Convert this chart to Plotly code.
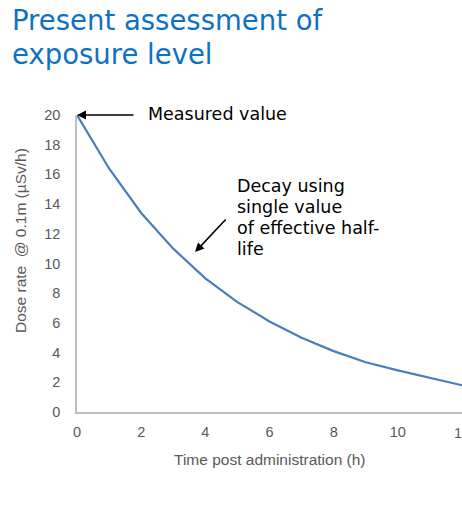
import plotly.graph_objects as go

hours = [0, 1, 2, 3, 4, 5, 6, 7, 8, 9, 10, 11, 12]
dose_rate = [20, 16.4, 13.4, 11.0, 9.0, 7.4, 6.1, 5.0, 4.1, 3.35, 2.8, 2.3, 1.8]
x_ticks = [0, 2, 4, 6, 8, 10, 12]
y_ticks = [0, 2, 4, 6, 8, 10, 12, 14, 16, 18, 20]

W, H = 462, 530
# screen coordinates of the plot area
SX0, SX1, SY0, SY1 = 77, 462, 115, 412
L, T = SX0, SY0
R = W - SX1
B = H - SY1
PW, PH = W - L - R, H - T - B


def px(x, y):
    """screen pixel -> paper coordinates"""
    return (x - L) / PW, (H - B - y) / PH


fig = go.Figure()
fig.add_trace(go.Scatter(x=hours, y=dose_rate, mode="lines",
                         line=dict(color="#4A7EBB", width=2.2),
                         cliponaxis=False, showlegend=False, hoverinfo="skip"))

grey = "#595959"
tick_font = dict(family="Liberation Sans, Arial", size=14.5, color=grey)
fig.update_layout(
    width=W, height=H,
    margin=dict(l=L, r=R, t=T, b=B, autoexpand=False),
    paper_bgcolor="white", plot_bgcolor="white",
    xaxis=dict(range=[0, 12], tickvals=x_ticks, showgrid=False, zeroline=False,
               showline=True, linecolor="#BFBFBF", linewidth=1.5, ticks="",
               tickfont=tick_font, ticklabelstandoff=6),
    yaxis=dict(range=[0, 20], tickvals=y_ticks, showgrid=False, zeroline=False,
               showline=True, linecolor="#BFBFBF", linewidth=1.5, ticks="",
               tickfont=tick_font, ticklabelstandoff=12),
)

# last x tick label sits on the page edge (partly cut, as in the reference)
_, yp = px(0, 433)
fig.add_annotation(text=str(x_ticks[-1]), xref="x", yref="paper", x=x_ticks[-1], y=yp,
                   xanchor="center", yanchor="middle", showarrow=False, font=tick_font)

axis_title_font = dict(family="Liberation Sans, Arial", size=15.5, color=grey)
xp, yp = px(270, 459)
fig.add_annotation(text="Time post administration (h)", xref="paper", yref="paper",
                   x=xp, y=yp, xanchor="center", yanchor="middle", showarrow=False,
                   font=axis_title_font)
xp, yp = px(20, 241)
fig.add_annotation(text="Dose rate  @ 0.1m (µSv/h)", xref="paper", yref="paper",
                   x=xp, y=yp, xanchor="center", yanchor="middle", showarrow=False,
                   textangle=-90, font=axis_title_font)

title_font = dict(family="DejaVu Sans, Verdana", size=27.5, color="#0E72C4")
for txt, yy in [("Present assessment of", 20), ("exposure level", 54)]:
    xp, yp = px(10, yy)
    fig.add_annotation(text=txt, xref="paper", yref="paper", x=xp, y=yp,
                       xanchor="left", yanchor="middle", showarrow=False, font=title_font)

ann_font = dict(family="DejaVu Sans, Verdana", size=17.5, color="black")

# Measured value arrow
fig.add_annotation(x=0, y=20, xref="x", yref="y", ax=58, ay=0, text="",
                   showarrow=True, arrowhead=2, arrowsize=1.2, arrowwidth=1.5,
                   arrowcolor="black")
xp, yp = px(146, 114)
fig.add_annotation(text="Measured value", xref="paper", yref="paper", x=xp, y=yp,
                   xanchor="left", yanchor="middle", showarrow=False, font=ann_font)

# Decay arrow
fig.add_annotation(x=3.68, y=10.77, xref="x", yref="y", ax=32, ay=-34, text="",
                   showarrow=True, arrowhead=2, arrowsize=1.2, arrowwidth=1.5,
                   arrowcolor="black")
for txt, yy in [("Decay using", 186), ("single value", 207), ("of effective half-", 228), ("life", 249)]:
    xp, yp = px(235, yy)
    fig.add_annotation(text=txt, xref="paper", yref="paper", x=xp, y=yp,
                       xanchor="left", yanchor="middle", showarrow=False, font=ann_font)

fig.write_html(
    "out.html",
    config={"displayModeBar": False},
    post_script="document.body.style.margin='0';"
                "document.documentElement.style.overflow='hidden';"
                "document.body.style.overflow='hidden';",
)
